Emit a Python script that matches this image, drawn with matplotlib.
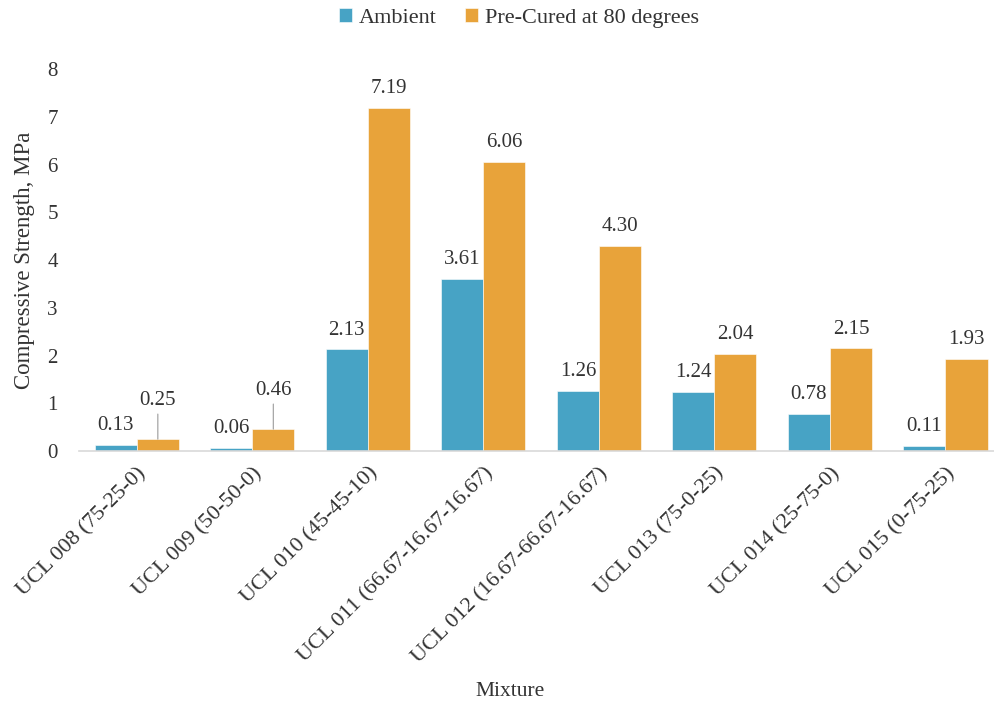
import matplotlib
matplotlib.use('Agg')
import matplotlib.pyplot as plt
import numpy as np

plt.rcParams['font.family'] = ['Liberation Serif', 'DejaVu Serif']

# Compressive strength per mixture, MPa
mixtures = ['UCL 008 (75-25-0)', 'UCL 009 (50-50-0)', 'UCL 010 (45-45-10)',
            'UCL 011 (66.67-16.67-16.67)', 'UCL 012 (16.67-66.67-16.67)',
            'UCL 013 (75-0-25)', 'UCL 014 (25-75-0)', 'UCL 015 (0-75-25)']
ambient = [0.13, 0.06, 2.13, 3.61, 1.26, 1.24, 0.78, 0.11]
precured = [0.25, 0.46, 7.19, 6.06, 4.30, 2.04, 2.15, 1.93]
# groups whose orange label sits higher with a leader line
leader_idx = [0, 1]

BLUE = '#47a3c5'
ORANGE = '#e8a33a'
TXT = '#333333'

fig = plt.figure(figsize=(9.94, 7.07), dpi=100)
ax = fig.add_axes([0.0795, 0.362, 0.9205, 0.5404])

x = np.arange(len(mixtures))
w = 0.364
b1 = ax.bar(x - w / 2, ambient, w, color=BLUE, edgecolor='white', linewidth=0.4, label='Ambient')
b2 = ax.bar(x + w / 2, precured, w, color=ORANGE, edgecolor='white', linewidth=0.4,
            label='Pre-Cured at 80 degrees')

for i in range(len(mixtures)):
    ax.annotate(f'{ambient[i]:.2f}', xy=(x[i] - w / 2, ambient[i]), xytext=(0, 7),
                textcoords='offset points', ha='center', va='bottom', fontsize=15, color=TXT)
    if i in leader_idx:
        ax.annotate(f'{precured[i]:.2f}', xy=(x[i] + w / 2, precured[i]), xytext=(0, 21),
                    textcoords='offset points', ha='center', va='bottom', fontsize=15, color=TXT,
                    arrowprops=dict(arrowstyle='-', color='#a6a6a6', lw=0.9, shrinkA=1, shrinkB=0))
    else:
        ax.annotate(f'{precured[i]:.2f}', xy=(x[i] + w / 2, precured[i]), xytext=(0, 7),
                    textcoords='offset points', ha='center', va='bottom', fontsize=15, color=TXT)

ax.set_xlim(-0.5, 7.42)
ax.set_ylim(0, 8)
ax.set_yticks(range(0, 9))
ax.set_xticks(x)
ax.set_xticklabels(mixtures, rotation=45, ha='right', va='top', rotation_mode='anchor',
                   fontsize=16, color=TXT)
ax.tick_params(axis='x', length=0, pad=9)
ax.tick_params(axis='y', length=0, pad=19, labelsize=15, labelcolor=TXT)
for lbl in ax.get_yticklabels():
    lbl.set_horizontalalignment('center')

for s in ['top', 'right', 'left']:
    ax.spines[s].set_visible(False)
ax.spines['bottom'].set_color('#d9d9d9')
ax.spines['bottom'].set_linewidth(1.2)

ax.set_ylabel('Compressive Strength, MPa', fontsize=16.5, color=TXT)
ax.yaxis.set_label_coords(-0.048, 0.5)
fig.text(0.513, 0.022, 'Mixture', ha='center', va='center', fontsize=15.5, color=TXT)

fig.legend(handles=[b1, b2], loc='center', bbox_to_anchor=(0.522, 0.975), ncol=2,
           frameon=False, fontsize=16, handlelength=0.6, handleheight=0.6,
           handletextpad=0.3, columnspacing=1.27, labelcolor=TXT)

fig.savefig('out.png', dpi=100)
